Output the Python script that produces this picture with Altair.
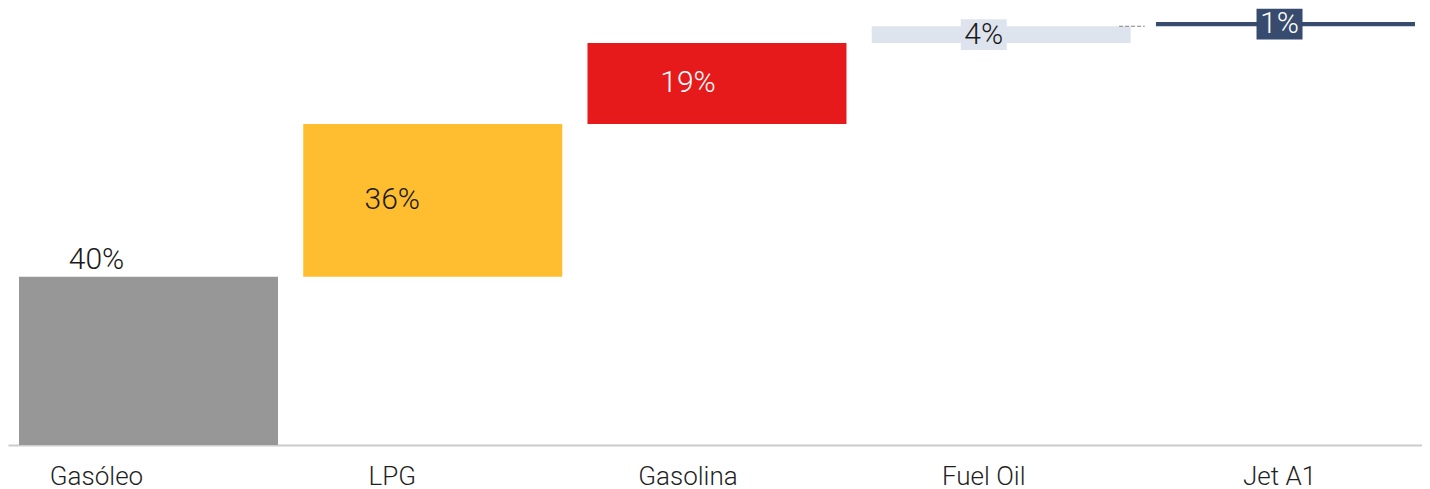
import altair as alt
import pandas as pd

categories = ["Gasóleo", "LPG", "Gasolina", "Fuel Oil", "Jet A1"]
shares = [40.0, 36.3, 19.2, 4.0, 1.0]
value_labels = ["40%", "36%", "19%", "4%", "1%"]
colors = ["#979797", "#FFBE30", "#E61A1A", "#DEE4EE", "#364B6E"]
light_text = [False, False, True, False, True]
boxed = [False, False, False, True, True]
label_above = [True, False, False, False, False]
connector_from = ["Fuel Oil"]

ends, starts, acc = [], [], 0.0
for s in shares:
    starts.append(acc)
    acc += s
    ends.append(acc)

df = pd.DataFrame({
    "category": categories,
    "start": starts,
    "end": ends,
    "mid": [(a + b) / 2 for a, b in zip(starts, ends)],
    "label": value_labels,
    "light": light_text,
    "boxed": boxed,
    "above": label_above,
    "connector": [c in connector_from for c in categories],
})

FONT = "Roboto"
W, H = 1414, 436
color_scale = alt.Scale(domain=categories, range=colors)
y_scale = alt.Scale(domain=[0, 103.6], nice=False, zero=True)
bar_x_scale = alt.Scale(paddingInner=0.0888, paddingOuter=0.0317, align=0.61)

base = alt.Chart(df)

bars = base.mark_bar(opacity=1).encode(
    x=alt.X("category:N", sort=categories, scale=bar_x_scale,
            axis=alt.Axis(title=None, labels=False, ticks=False, grid=False,
                          domainColor="#cccccc", domainWidth=2)),
    y=alt.Y("start:Q", scale=y_scale, axis=None),
    y2="end:Q",
    color=alt.Color("category:N", scale=color_scale, legend=None),
)

connector = base.transform_filter("datum.connector").mark_rule(
    color="#808080", strokeWidth=1, strokeDash=[4, 2], x2Offset=14
).encode(
    x=alt.X("category:N", sort=categories, scale=bar_x_scale, bandPosition=0.955),
    x2=alt.X2("category:N", bandPosition=1),
    y=alt.Y("end:Q", scale=y_scale, axis=None),
)

bars_layer = alt.layer(bars, connector)

lab_x = alt.X("category:N", sort=categories,
              scale=alt.Scale(range=[-59.4, 1419.4], paddingInner=0, paddingOuter=0),
              axis=None)

box_shape = "M-1,-0.67L1,-0.67L1,0.67L-1,0.67Z"
boxes = base.transform_filter("datum.boxed").mark_point(
    shape=box_shape, size=2116, filled=True, opacity=1, strokeWidth=0
).encode(
    x=lab_x,
    y=alt.Y("mid:Q", scale=y_scale, axis=None),
    color=alt.Color("category:N", scale=color_scale, legend=None),
)

inner_text = base.transform_filter("!datum.above").mark_text(
    font=FONT, fontSize=30, fontWeight=300, baseline="middle", align="center"
).encode(
    x=lab_x,
    y=alt.Y("mid:Q", scale=y_scale, axis=None),
    text="label:N",
    color=alt.condition("datum.light", alt.value("#ffffff"), alt.value("#1a1a1a")),
)

above_text = base.transform_filter("datum.above").mark_text(
    font=FONT, fontSize=30, fontWeight=300, baseline="alphabetic", align="center",
    dy=-8, color="#1a1a1a"
).encode(
    x=lab_x,
    y=alt.Y("end:Q", scale=y_scale, axis=None),
    text="label:N",
)

cat_text = base.mark_text(
    font=FONT, fontSize=26, fontWeight=300, baseline="middle", align="center",
    color="#1f1f1f"
).encode(
    x=lab_x,
    y=alt.value(468),
    text="category:N",
)

labels_layer = alt.layer(boxes, inner_text, above_text, cat_text)

chart = alt.layer(bars_layer, labels_layer).resolve_scale(x="independent").properties(
    width=W, height=H, padding={"left": 0, "top": 0, "right": 0, "bottom": 0}
).configure(
    font=FONT,
    view=alt.ViewConfig(strokeWidth=0, stroke="transparent"),
)

chart.save("out.html", embed_options={"renderer": "svg", "actions": False})
